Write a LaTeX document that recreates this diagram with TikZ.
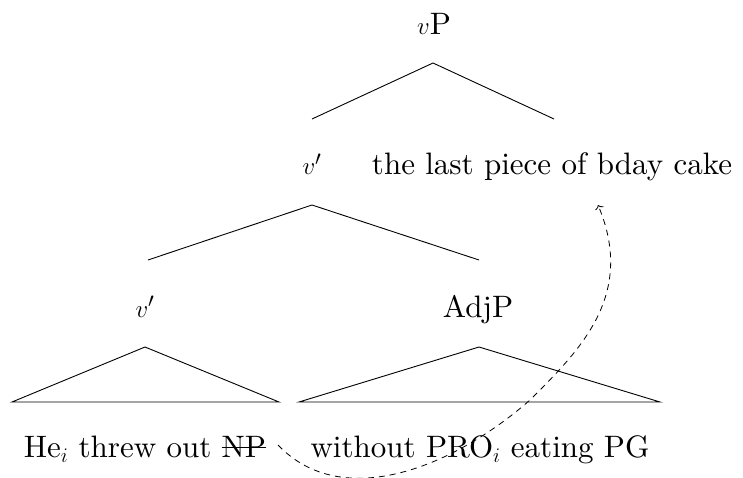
\documentclass[tikz,border=0pt]{standalone}
\usepackage{fontspec}
\setmainfont{lmroman10-regular.otf}[ItalicFont=lmroman10-italic.otf,BoldFont=lmroman10-bold.otf]
\usetikzlibrary{calc,arrows.meta}

% struck-out text: a thin rule drawn across the word
\newsavebox\strikebox
\newcommand\strk[1]{\sbox\strikebox{#1}\rlap{\rule[0.29em]{\wd\strikebox}{0.035em}}\usebox\strikebox}

\begin{document}
\begin{tikzpicture}[x=1pt,y=-1pt,
  lbl/.style={anchor=base,inner sep=0pt,font=\fontsize{31}{37}\selectfont},
  branch/.style={line width=0.9pt,line join=miter},
  movement/.style={line width=0.8pt,dash pattern=on 6pt off 5pt,-{To[length=4pt,width=9pt]}}]

\useasboundingbox (0,0) rectangle (743,478);

% labels
\node[lbl] (vP)      at (434,35)  {$v$P};
\node[lbl] (vbar)    at (312,175) {$v'$};
\node[lbl] (cake)    at (552,175) {the last piece of bday cake};
\node[lbl] (vbarlo)  at (145,317) {$v'$};
\node[lbl] (adjp)    at (478,317) {AdjP};
\node[lbl] (he)      at (145,457) {He$_i$ threw out \strk{NP}};
\node[lbl] (without) at (480,457) {without PRO$_i$ eating PG};

% branching points
\coordinate (vP-top)   at ($(vP.base)+(-1,28)$);
\coordinate (vP-l)     at ($(vbar.base)+(0,-56)$);
\coordinate (vP-r)     at ($(cake.base)+(2,-56)$);
\coordinate (vbar-top) at ($(vbar.base)+(0,30)$);
\coordinate (vbar-l)   at ($(vbarlo.base)+(3,-57)$);
\coordinate (vbar-r)   at ($(adjp.base)+(1,-57)$);
\coordinate (lo-top)   at ($(vbarlo.base)+(0,30)$);
\coordinate (lo-l)     at (12,402);
\coordinate (lo-r)     at (279,402);
\coordinate (adj-top)  at ($(adjp.base)+(1,30)$);
\coordinate (adj-l)    at (299,402);
\coordinate (adj-r)    at (660,402);

% tree branches
\draw[branch] (vP-l) -- (vP-top) -- (vP-r);
\draw[branch] (vbar-l) -- (vbar-top) -- (vbar-r);
\draw[branch] (lo-top) -- (lo-l) -- (lo-r) -- cycle;
\draw[branch] (adj-top) -- (adj-l) -- (adj-r) -- cycle;

% movement of the object
\coordinate (trace)   at (278,445);
\coordinate (landing) at (598,205);
\draw[movement] (trace) .. controls (343,513) and (455,466) .. (530,400)
                        .. controls (580,350) and (636,295) .. (landing);
\end{tikzpicture}
\end{document}
